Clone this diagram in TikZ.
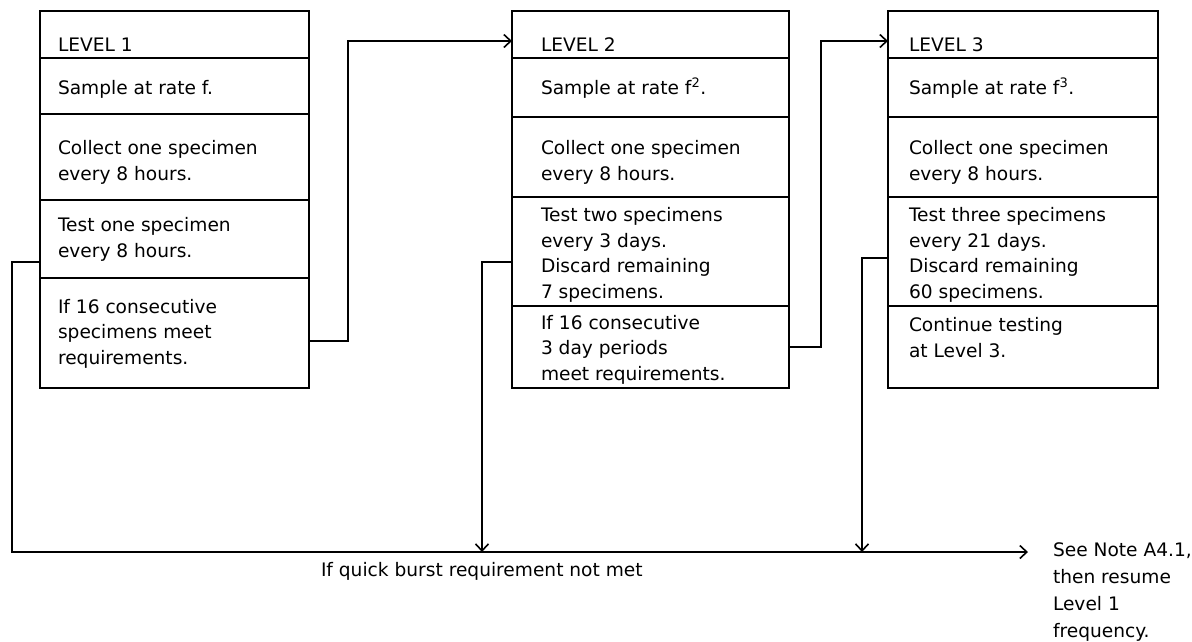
\documentclass[tikz,border=0pt]{standalone}
\usepackage{fontspec}
\setmainfont{DejaVu Sans}
\usetikzlibrary{arrows.meta}
\begin{document}
\begin{tikzpicture}[x=1pt,y=-1pt,
  cell/.style={draw=black,line width=2.3pt,anchor=north west,inner sep=0pt,outer sep=0pt,minimum width=#1},
  txt/.style={anchor=base west,inner sep=0pt,outer sep=0pt,align=left,font=\fontsize{18.6}{25.5}\selectfont},
  conn/.style={draw=black,line width=1.6pt},
  arr/.style={conn,-{Straight Barb[length=7pt,width=13pt,line width=1.6pt]}}
]
\useasboundingbox (0,0) rectangle (1192,641);
% Level 1 cells
\node[cell=269pt,minimum height=47pt]  (La1) at (40,11) {};
\node[cell=269pt,minimum height=56pt]  (Lb1) at (40,58) {};
\node[cell=269pt,minimum height=86pt]  (Lc1) at (40,114) {};
\node[cell=269pt,minimum height=78pt]  (Ld1) at (40,200) {};
\node[cell=269pt,minimum height=110pt] (Le1) at (40,278) {};
% Level 2 cells
\node[cell=277pt,minimum height=47pt]  (La2) at (512,11) {};
\node[cell=277pt,minimum height=59pt]  (Lb2) at (512,58) {};
\node[cell=277pt,minimum height=80pt]  (Lc2) at (512,117) {};
\node[cell=277pt,minimum height=109pt] (Ld2) at (512,197) {};
\node[cell=277pt,minimum height=82pt]  (Le2) at (512,306) {};
% Level 3 cells
\node[cell=270pt,minimum height=47pt]  (La3) at (888,11) {};
\node[cell=270pt,minimum height=59pt]  (Lb3) at (888,58) {};
\node[cell=270pt,minimum height=80pt]  (Lc3) at (888,117) {};
\node[cell=270pt,minimum height=109pt] (Ld3) at (888,197) {};
\node[cell=270pt,minimum height=82pt]  (Le3) at (888,306) {};
% Level 1 text (anchor = baseline of last line)
\node[txt] (ta1) at (58,51) {LEVEL 1};
\node[txt] (tb1) at (58,94) {Sample at rate f.};
\node[txt] (tc1) at (58,180) {Collect one specimen\\every 8 hours.};
\node[txt] (td1) at (58,257) {Test one specimen\\every 8 hours.};
\node[txt] (te1) at (58,364) {If 16 consecutive\\specimens meet\\requirements.};
% Level 2 text
\node[txt] (ta2) at (541,51) {LEVEL 2};
\node[txt] (tb2) at (541,94) {Sample at rate f\textsuperscript{2}.};
\node[txt] (tc2) at (541,180) {Collect one specimen\\every 8 hours.};
\node[txt] (td2) at (541,298) {Test two specimens\\every 3 days.\\Discard remaining\\7 specimens.};
\node[txt] (te2) at (541,380) {If 16 consecutive\\3 day periods\\meet requirements.};
% Level 3 text
\node[txt] (ta3) at (909,51) {LEVEL 3};
\node[txt] (tb3) at (909,94) {Sample at rate f\textsuperscript{3}.};
\node[txt] (tc3) at (909,180) {Collect one specimen\\every 8 hours.};
\node[txt] (td3) at (909,298) {Test three specimens\\every 21 days.\\Discard remaining\\60 specimens.};
\node[txt] (te3) at (909,357) {Continue testing\\at Level 3.};
% bottom texts
\node[txt] (fail) at (321,576) {If quick burst requirement not met};
\node[txt,font=\fontsize{18.6}{27}\selectfont] (note) at (1053,637) {See Note A4.1,\\then resume\\Level 1\\frequency.};
\coordinate (fbend) at (1028,552);
% forward connectors
\draw[arr] ([yshift=-8pt]Le1.east) -- ++(39,0) |- ([yshift=-6.5pt]La2.west);
\draw[arr] (Le2.east) -- ++(32,0) |- ([yshift=-6.5pt]La3.west);
% failure connectors
\draw[arr] ([yshift=-23pt]Ld1.west) -- ++(-28,0) |- (fbend);
\draw[arr] ([yshift=-10.5pt]Ld2.west) -- ++(-30,0) coordinate (k2) -- (k2 |- fbend);
\draw[arr] ([yshift=-6.5pt]Ld3.west) -- ++(-26,0) coordinate (k3) -- (k3 |- fbend);
\end{tikzpicture}
\end{document}
